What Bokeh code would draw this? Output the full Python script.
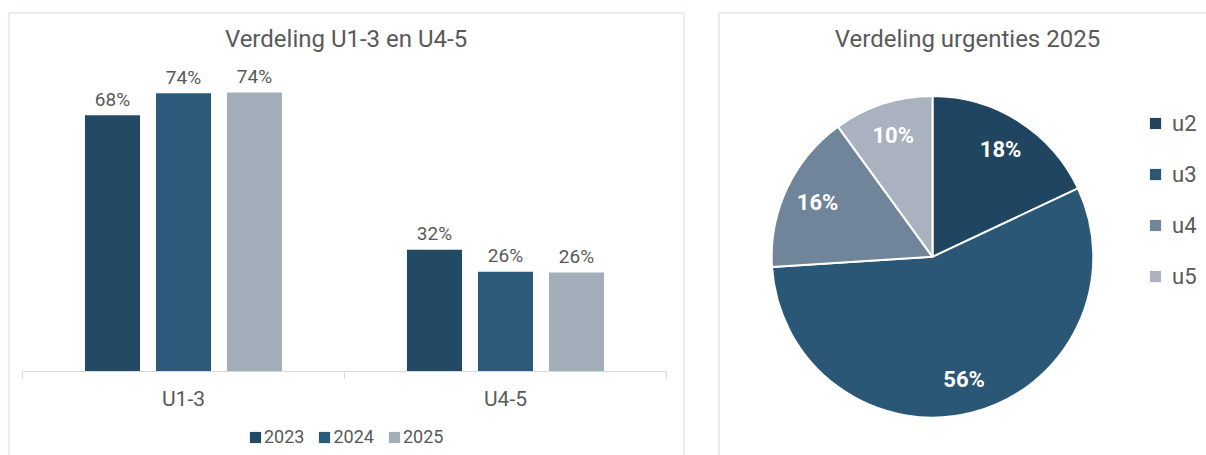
import math
import numpy as np
from bokeh.plotting import figure
from bokeh.models import ColumnDataSource, Range1d, Legend, LegendItem
from bokeh.embed import file_html
from bokeh.resources import INLINE
from bokeh.core.properties import value

# ---------------- data ----------------
categories = ["U1-3", "U4-5"]
years = ["2023", "2024", "2025"]
share_2023 = [67.8, 32.2]
share_2024 = [73.6, 26.4]
share_2025 = [73.8, 26.2]
year_colors = ["#234a65", "#2c5a7b", "#a2aeba"]

urgencies = ["u2", "u3", "u4", "u5"]
urgency_share = [18, 56, 16, 10]
urgency_colors = ["#1f4561", "#2b5777", "#70859a", "#aab2c0"]

bar_title = "Verdeling U1-3 en U4-5"
pie_title = "Verdeling urgenties 2025"

FONT = "Roboto"
TEXT = "#595959"
PANEL = "#cddbe6"
AXIS = "#d9d9d9"

W, H = 1206, 455

# one canvas; main ranges are page pixels (y downwards), extra ranges hold the charts
p = figure(width=W, height=H, x_range=Range1d(0, W), y_range=Range1d(H, 0),
           output_backend="svg", toolbar_location=None, title=None,
           x_axis_location=None, y_axis_location=None,
           min_border_left=0, min_border_right=0, min_border_top=0, min_border_bottom=0)
p.outline_line_color = None
p.xgrid.visible = False
p.ygrid.visible = False
p.background_fill_color = "white"
p.border_fill_color = "white"

# bar chart scale: category band 322 px wide starting at page x 22, 3.78 px per percent, baseline at page y 371
p.extra_x_ranges = {"bar": Range1d(-22 / 322, (W - 22) / 322),
                    "pie": Range1d(-932 / 160.8, (W - 932) / 160.8)}
p.extra_y_ranges = {"bar": Range1d(-(H - 371) / 3.78, 371 / 3.78),
                    "pie": Range1d(-(H - 256.3) / 160.8, 256.3 / 160.8)}

# ---------------- panels ----------------
p.line(x=[8.5, 8.5, 683.5, 683.5], y=[H, 12.5, 12.5, H], line_color=PANEL, line_width=1)
p.line(x=[718.5, 718.5, W], y=[H, 12.5, 12.5], line_color=PANEL, line_width=1)
p.text(x=[345.5, 967], y=[38, 38], text=[bar_title, pie_title], text_align="center",
       text_baseline="middle", text_font=value(FONT), text_font_size="24px", text_color=TEXT)

# ---------------- bar chart ----------------
series = {"2023": share_2023, "2024": share_2024, "2025": share_2025}
offsets = [-0.2205, 0.0, 0.2205]
bar_renderers = []
for yr, col, off in zip(years, year_colors, offsets):
    vals = series[yr]
    src = ColumnDataSource(dict(
        x=[i + 0.5 + off for i in range(len(categories))],
        top=vals,
        lab=[f"{v:.0f}%" for v in vals]))
    r = p.vbar(x="x", top="top", bottom=0, width=0.171, source=src, fill_color=col,
               line_color=None, x_range_name="bar", y_range_name="bar")
    bar_renderers.append(r)
    p.text(x="x", y="top", text="lab", source=src, x_range_name="bar", y_range_name="bar",
           text_align="center", text_baseline="middle", y_offset=-16,
           text_font=value(FONT), text_font_size="19px", text_color=TEXT)

# category axis
n = len(categories)
p.segment(x0=[0], y0=[0], x1=[n], y1=[0], line_color=AXIS, line_width=1,
          x_range_name="bar", y_range_name="bar")
p.segment(x0=list(range(n + 1)), y0=[0] * (n + 1), x1=list(range(n + 1)), y1=[-2.0] * (n + 1),
          line_color=AXIS, line_width=1, x_range_name="bar", y_range_name="bar")
p.text(x=[i + 0.5 for i in range(n)], y=[0] * n, text=categories, y_offset=27,
       x_range_name="bar", y_range_name="bar", text_align="center", text_baseline="middle",
       text_font=value(FONT), text_font_size="21px", text_color=TEXT)

bar_legend = Legend(items=[LegendItem(label=yr, renderers=[r]) for yr, r in zip(years, bar_renderers)],
                    orientation="horizontal", location=(248, 8),
                    glyph_width=14, glyph_height=14, label_standoff=2, spacing=13, label_height=20,
                    padding=0, margin=0, border_line_color=None, background_fill_alpha=0,
                    label_text_font=FONT, label_text_font_size="18px", label_text_color=TEXT)
p.add_layout(bar_legend, "center")

# ---------------- pie chart ----------------
frac = np.array(urgency_share, dtype=float) / sum(urgency_share)
cum = np.cumsum(frac)
start = math.pi / 2 - 2 * math.pi * (cum - frac)
end = math.pi / 2 - 2 * math.pi * cum
mid = (start + end) / 2
pie_src = ColumnDataSource(dict(
    name=urgencies, color=urgency_colors, start=start, end=end,
    lx=0.79 * np.cos(mid), ly=0.79 * np.sin(mid),
    lab=[f"{v}%" for v in urgency_share]))

p.wedge(x=0, y=0, radius=1, start_angle="start", end_angle="end", direction="clock",
        fill_color="color", line_color="white", line_width=2, source=pie_src,
        x_range_name="pie", y_range_name="pie")
p.text(x="lx", y="ly", text="lab", source=pie_src, x_range_name="pie", y_range_name="pie",
       text_align="center", text_baseline="middle",
       text_font=value(FONT), text_font_size="22px", text_font_style="bold", text_color="white")

# square swatches for the pie legend (hidden renderer, same colours)
swatch = p.vbar(x=0, top=0, width=0, fill_color="color", line_color=None, source=pie_src,
                x_range_name="pie", y_range_name="pie", visible=False)
pie_legend = Legend(items=[LegendItem(label=u, renderers=[swatch], index=i) for i, u in enumerate(urgencies)],
                    location=(1148, 166), orientation="vertical",
                    glyph_width=14, glyph_height=14, label_standoff=10, spacing=25, label_height=26,
                    padding=0, margin=0, border_line_color=None, background_fill_alpha=0,
                    label_text_font=FONT, label_text_font_size="22px", label_text_color=TEXT)
p.add_layout(pie_legend, "center")

open("out.html", "w").write(file_html(p, INLINE))
